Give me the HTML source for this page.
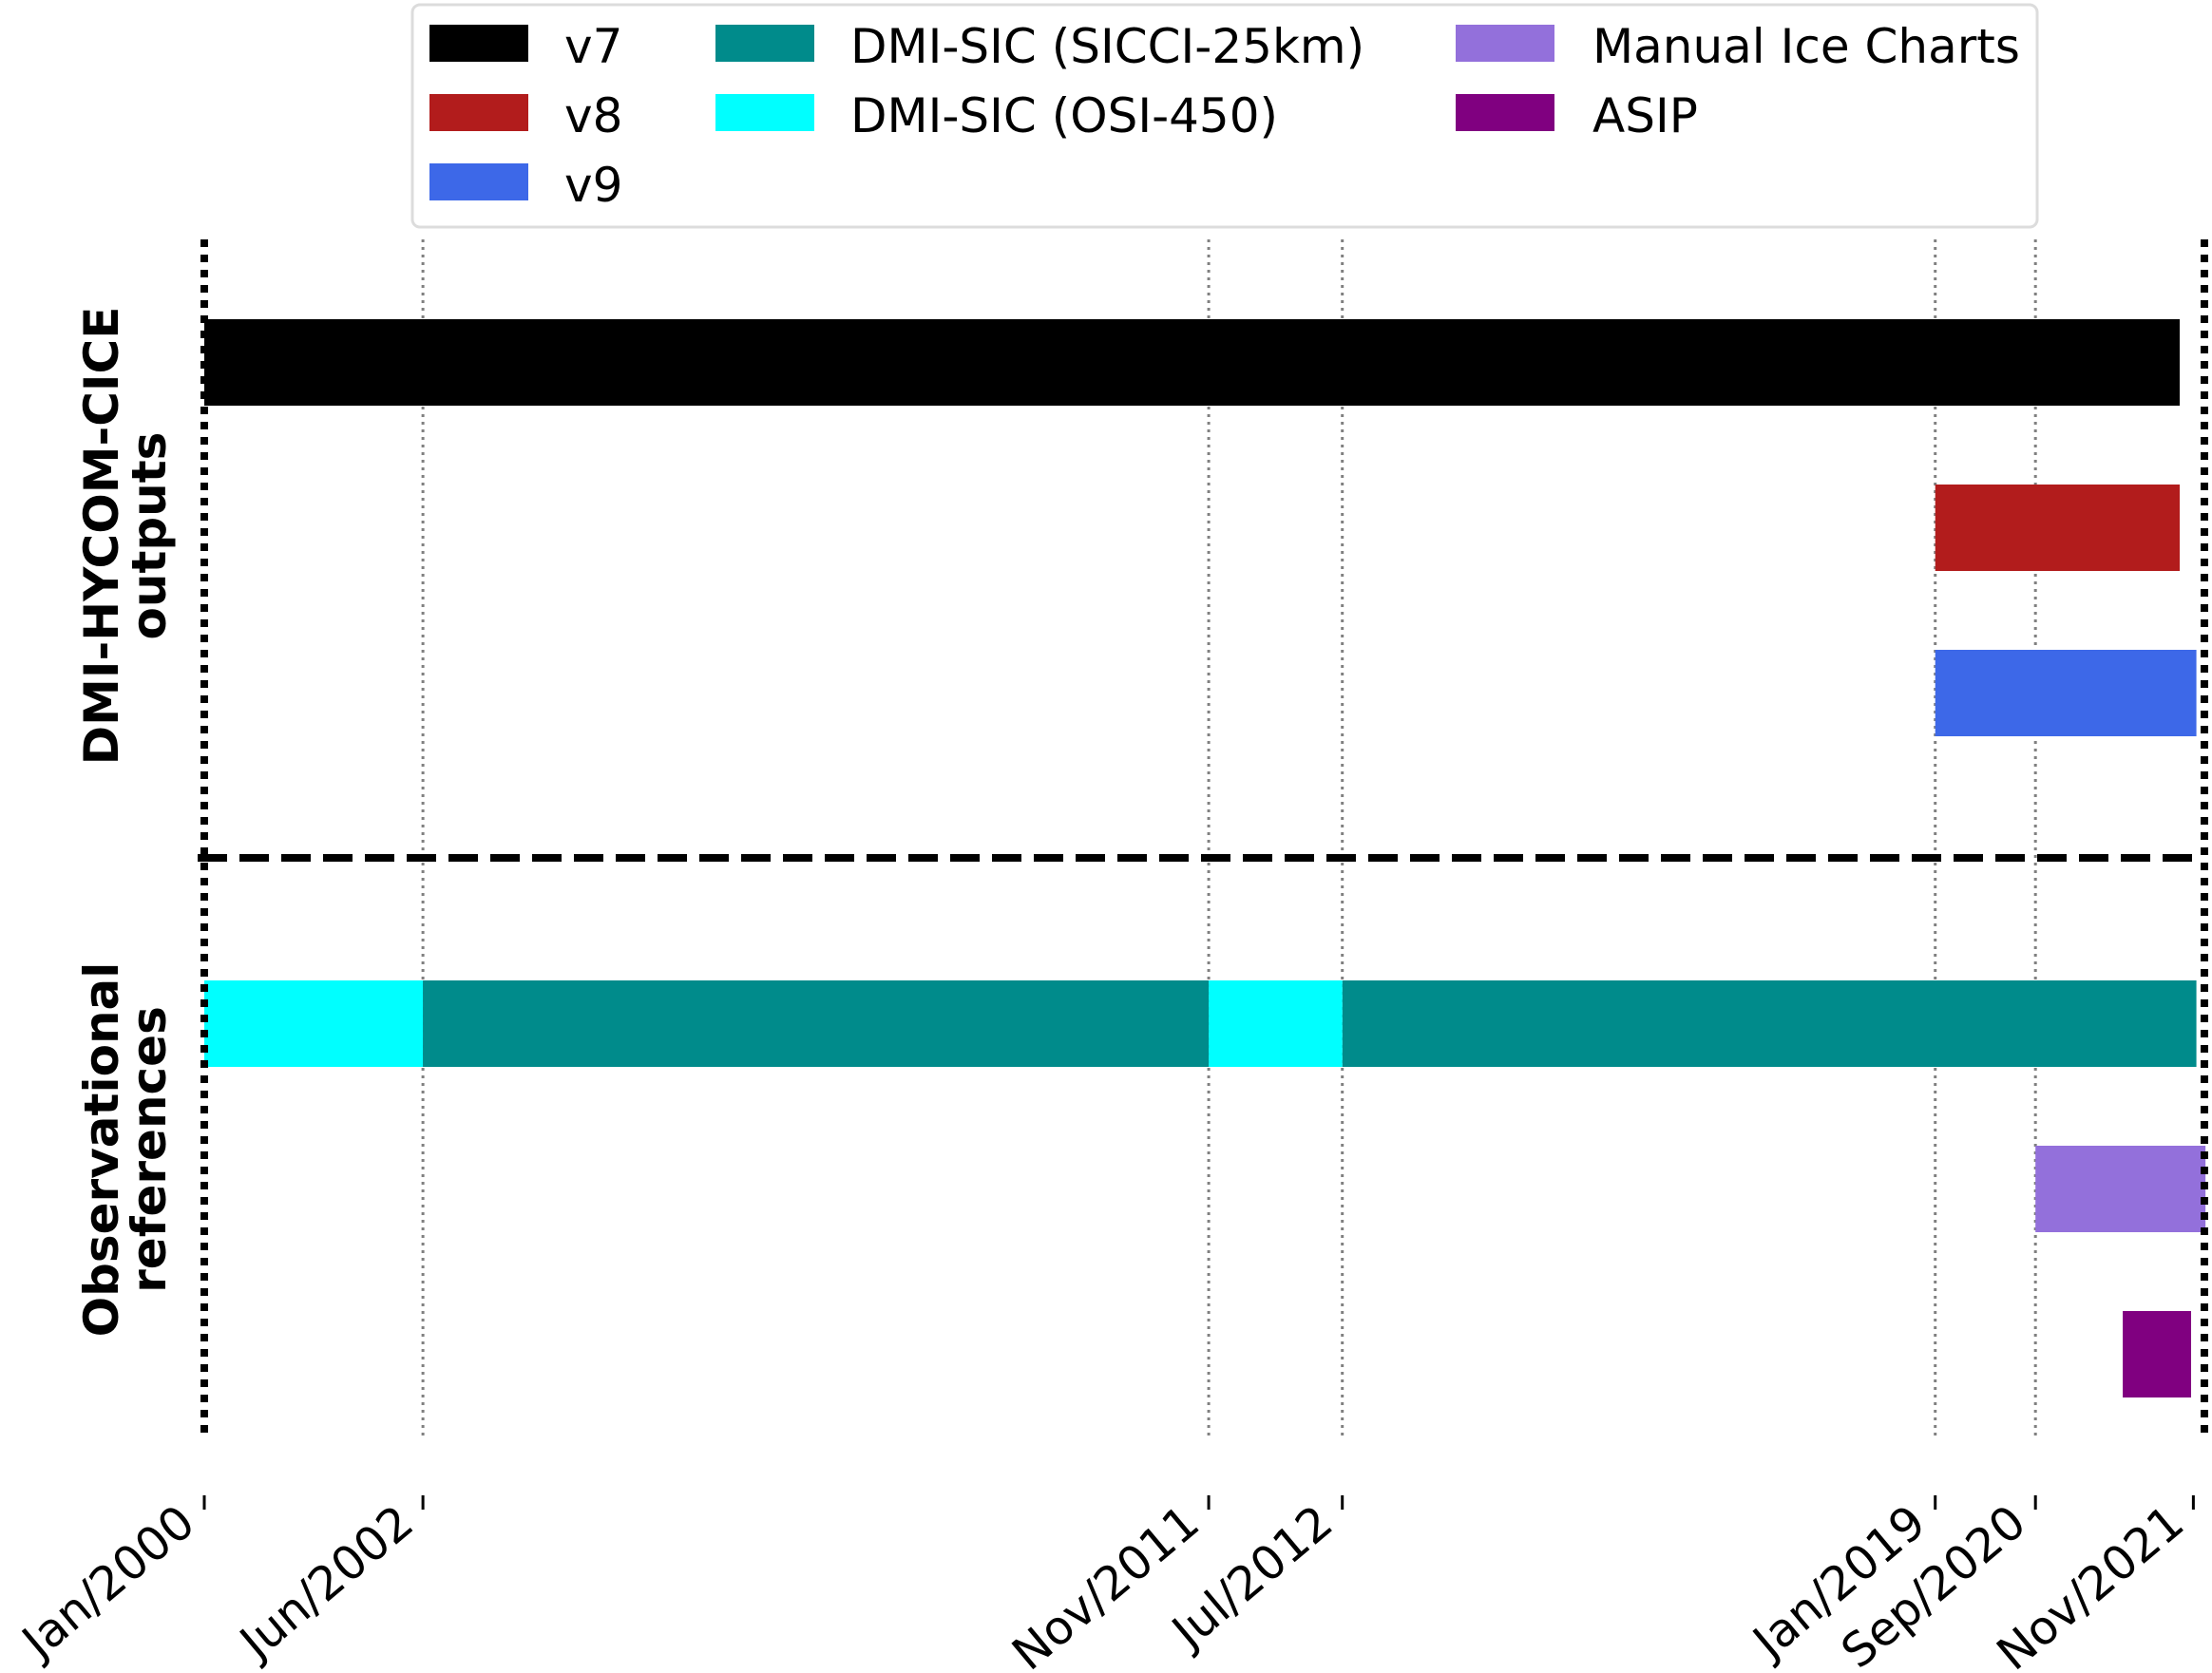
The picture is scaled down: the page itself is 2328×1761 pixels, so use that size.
<!DOCTYPE html>
<html><head><meta charset="utf-8"><style>
html,body{margin:0;padding:0;background:#fff;}
svg{display:block;font-family:"DejaVu Sans","Liberation Sans",sans-serif;}
</style></head><body>
<svg id="chart" width="2328" height="1761" viewBox="0 0 2328 1761" xmlns="http://www.w3.org/2000/svg">
  <g id="grid"></g>
  <g id="bars"></g>
  <g id="frame"></g>
  <g id="xaxis"></g>
  <text transform="translate(124,564) rotate(-90)" text-anchor="middle" font-size="50" font-weight="bold">DMI-HYCOM-CICE</text>
  <text transform="translate(174,564) rotate(-90)" text-anchor="middle" font-size="50" font-weight="bold">outputs</text>
  <text transform="translate(124,1210) rotate(-90)" text-anchor="middle" font-size="50" font-weight="bold">Observational</text>
  <text transform="translate(174,1210) rotate(-90)" text-anchor="middle" font-size="50" font-weight="bold">references</text>
  <g id="legend">
    <rect x="434" y="5" width="1710" height="234" rx="8" fill="#fff" stroke="#dcdcdc" stroke-width="3"/>
  </g>
</svg>
<script>
// months since Jan 2000
const tickValues = [0, 28.8, 132.3, 149.9, 228, 241.2, 262];
const tickLabels = ["Jan/2000","Jun/2002","Nov/2011","Jul/2012","Jan/2019","Sep/2020","Nov/2021"];
const barNames = ["v7","v8","v9","sicci-a","osi-a","sicci-b","osi-b","sicci-c","manual","asip"];
const barRows = [0, 1, 2, 4, 4, 4, 4, 4, 5, 6];
const barStarts = [0, 228, 228, 28.8, 0, 149.9, 132.3, 28.8, 241.2, 252.7];
const barEnds = [260.2, 260.2, 262.4, 132.3, 28.8, 262.4, 149.9, 132.3, 263.6, 261.7];
const barColors = ["#000000","#b21c1c","#3d68e8","#008b8b","#00ffff","#008b8b","#00ffff","#008b8b","#9370db","#800080"];
const legendLabels = ["v7","v8","v9","DMI-SIC (SICCI-25km)","DMI-SIC (OSI-450)","Manual Ice Charts","ASIP"];
const legendColors = ["#000000","#b21c1c","#3d68e8","#008b8b","#00ffff","#9370db","#800080"];
const legendCols = [0,0,0,1,1,2,2];
const legendRowIdx = [0,1,2,0,1,0,1];

const NS = "http://www.w3.org/2000/svg";
function xs(v){ return 215 + v * 7.99; }
function ys(r){ return 336 + r * 174; }
function mk(tag, attrs, parent){
  const e = document.createElementNS(NS, tag);
  for (const k in attrs) e.setAttribute(k, attrs[k]);
  parent.appendChild(e); return e;
}
const grid = document.getElementById('grid');
const bars = document.getElementById('bars');
const frame = document.getElementById('frame');
const xaxis = document.getElementById('xaxis');
const legend = document.getElementById('legend');

tickValues.forEach((v, i) => {
  const x = xs(v);
  if (i > 0 && i < tickValues.length - 1) {
    const g = mk('line', {x1:x, x2:x, y1:252, y2:1511, stroke:'#808080', 'stroke-width':3, 'stroke-dasharray':'3 5'}, grid);
    
    
  }
  const t = mk('line', {x1:x, x2:x, y1:1574, y2:1589, stroke:'#000', 'stroke-width':3}, xaxis);
  
  
  const lbl = mk('text', {transform:`translate(${x-7},1608) rotate(-40)`, 'text-anchor':'end', 'font-size':49}, xaxis);
  lbl.textContent = tickLabels[i];
  
  
});

barNames.forEach((n, i) => {
  const x0 = xs(barStarts[i]), x1 = xs(barEnds[i]);
  const r = mk('rect', {x:x0, y:ys(barRows[i]), width:x1-x0, height:91, fill:barColors[i]}, bars);
  
  
});

const l1 = mk('line', {x1:215, x2:215, y1:252, y2:1511, stroke:'#000', 'stroke-width':8, 'stroke-dasharray':'8 8'}, frame);


const l2 = mk('line', {x1:2320, x2:2320, y1:252, y2:1511, stroke:'#000', 'stroke-width':8, 'stroke-dasharray':'8 8'}, frame);


const l3 = mk('line', {x1:208, x2:2312, y1:903, y2:903, stroke:'#000', 'stroke-width':8, 'stroke-dasharray':'31 13'}, frame);



const colPatchX = [452, 753, 1532];
const colTextX = [594, 895, 1676];
legendLabels.forEach((lab, i) => {
  const c = legendCols[i], r = legendRowIdx[i];
  const y = 26 + r * 73;
  const p = mk('rect', {x:colPatchX[c], y:y, width:104, height:39, fill:legendColors[i]}, legend);
  
  
  const t = mk('text', {x:colTextX[c], y:y+40, 'font-size':50}, legend);
  t.textContent = lab;
  
  
});
</script>
</body></html>
